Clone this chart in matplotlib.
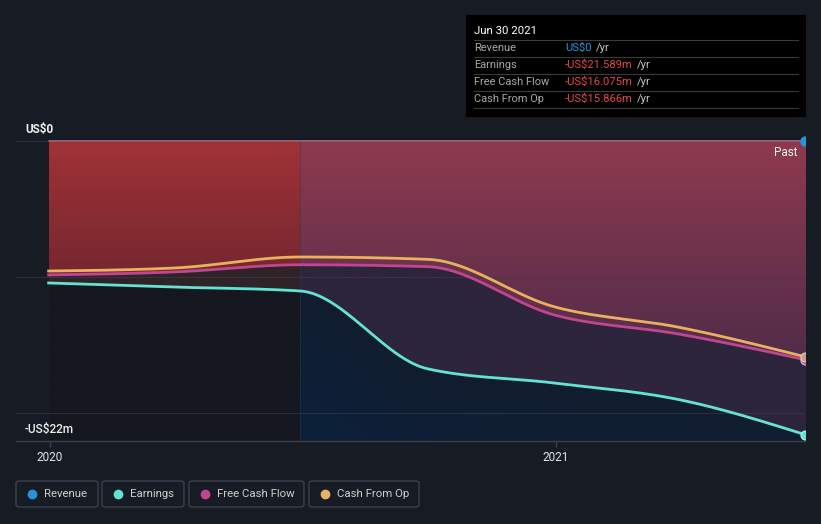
import numpy as np
import matplotlib
matplotlib.use('Agg')
import matplotlib.pyplot as plt
import matplotlib.dates as mdates
from matplotlib.patches import Rectangle, FancyBboxPatch
from matplotlib.lines import Line2D
from datetime import datetime

plt.rcParams['font.family'] = ['Roboto', 'DejaVu Sans']

# quarterly values, US$m
dates = ['2019-12-31', '2020-03-31', '2020-06-30', '2020-09-30',
         '2020-12-31', '2021-03-31', '2021-06-30']
revenue = [0, 0, 0, 0, 0, 0, 0]
earnings = [-10.44, -10.74, -11.03, -16.75, -17.8, -19.02, -21.589]
freeCashFlow = [-9.85, -9.63, -9.10, -9.24, -12.8, -14.2, -16.075]
cashFromOp = [-9.56, -9.34, -8.53, -8.70, -12.2, -13.7, -15.866]

seriesNames = ['Revenue', 'Earnings', 'Free Cash Flow', 'Cash From Op']
seriesColours = ['#2394df', '#62e3d4', '#c0468f', '#e8b160']

tooltipDate = 'Jun 30 2021'
tooltipValues = ['US$0', '-US$21.589m', '-US$16.075m', '-US$15.866m']
pastStart = '2020-06-30'

BG = '#161b24'
W, H = 821, 524


def px(x, y):
    return x / W, 1 - y / H


def MonotoneCurve(x, y, xs):
    # monotone cubic like d3 curveMonotoneX
    x = np.asarray(x, float)
    y = np.asarray(y, float)
    h = np.diff(x)
    s = np.diff(y) / h
    n = len(x)
    m = np.zeros(n)
    for k in range(1, n - 1):
        h0, h1 = h[k - 1], h[k]
        s0, s1 = s[k - 1], s[k]
        p = (s0 * h1 + s1 * h0) / (h0 + h1)
        m[k] = (np.sign(s0) + np.sign(s1)) * min(abs(s0), abs(s1), 0.5 * abs(p))
    m[0] = (3 * s[0] - m[1]) / 2
    m[-1] = (3 * s[-1] - m[-2]) / 2
    idx = np.clip(np.searchsorted(x, xs) - 1, 0, n - 2)
    t = (xs - x[idx]) / h[idx]
    h00 = 2 * t**3 - 3 * t**2 + 1
    h10 = t**3 - 2 * t**2 + t
    h01 = -2 * t**3 + 3 * t**2
    h11 = t**3 - t**2
    return h00 * y[idx] + h10 * h[idx] * m[idx] + h01 * y[idx + 1] + h11 * h[idx] * m[idx + 1]


xNum = mdates.date2num([datetime.strptime(d, '%Y-%m-%d') for d in dates])
splitX = mdates.date2num(datetime.strptime(pastStart, '%Y-%m-%d'))

fig = plt.figure(figsize=(W / 100, H / 100), dpi=100, facecolor=BG)
ax = fig.add_axes([16 / W, 1 - 441 / H, (805 - 16) / W, (441 - 130) / H])
ax.set_facecolor(BG)

pxPerDay = (805 - 50) / (xNum[-1] - mdates.date2num(datetime(2020, 1, 1)))
xLeft = xNum[-1] - (805 - 16) / pxPerDay
yBottom = -22.06
yTop = (441 - 130) / 13.6 + yBottom
ax.set_xlim(xLeft, xNum[-1])
ax.set_ylim(yBottom, yTop)

# smooth curves
xs = np.linspace(xNum[0], xNum[-1], 800)
smoothEarnings = MonotoneCurve(xNum, earnings, xs)
smoothFcf = MonotoneCurve(xNum, freeCashFlow, xs)
smoothCfo = MonotoneCurve(xNum, cashFromOp, xs)
smoothRevenue = MonotoneCurve(xNum, revenue, xs)

# background fill image
ys = np.linspace(0, yBottom, 320)
YY = ys[:, None] * np.ones((1, len(xs)))
right = (xs >= splitX)[None, :] * np.ones((len(ys), 1), bool)
t = np.clip(-YY / 16, 0, 1)[..., None]


def c(rgb):
    return np.array(rgb, float)[None, None, :] / 255


topL, botL = c((160, 50, 55)), c((92, 32, 42))
topR, botR = c((142, 58, 78)), c((82, 44, 74))
img = np.where(right[..., None], topR + (botR - topR) * t, topL + (botL - topL) * t)
belowLines = YY < np.minimum(smoothFcf, smoothCfo)[None, :]
img = np.where((belowLines & ~right)[..., None], c((48, 35, 40)), img)
img = np.where((belowLines & right)[..., None], c((44, 37, 60)), img)
belowEarn = YY < smoothEarnings[None, :]
tb = np.clip((YY - smoothEarnings[None, :]) / -8, 0, 1)[..., None]
img = np.where((belowEarn & ~right)[..., None], c((21, 24, 31)) * np.ones_like(tb), img)
img = np.where((belowEarn & right)[..., None], c((17, 29, 46)) + (c((13, 32, 56)) - c((17, 29, 46))) * tb, img)
ax.imshow(img, extent=[xs[0], xs[-1], yBottom, 0], aspect='auto', origin='upper',
          interpolation='bilinear', zorder=1)

# grid
for gy in [0, -10, -20]:
    ax.axhline(gy, color='#3a3f4a', lw=0.8, alpha=0.6, zorder=2)
ax.plot([splitX, splitX], [yBottom, 0], color='#2c3f66', lw=0.8, alpha=0.45, zorder=2)

# lines
ax.plot(xs, smoothRevenue, color='#c08aa0', lw=1.2, alpha=0.5, zorder=3)
ax.plot(xs, smoothCfo, color=seriesColours[3], lw=2, zorder=4)
ax.plot(xs, smoothFcf, color=seriesColours[2], lw=2, zorder=4)
ax.plot(xs, smoothEarnings, color=seriesColours[1], lw=2, zorder=4)

# end dots
ax.plot(xNum[-1], revenue[-1], 'o', ms=6.5, color=seriesColours[0], zorder=6)
ax.plot(xNum[-1], earnings[-1], 'o', ms=6.5, color=seriesColours[1], mec='#b8f5ee', mew=0.8, zorder=6)
ax.plot(xNum[-1], freeCashFlow[-1], 'o', ms=6.5, color=seriesColours[2], mec='#d8c8e0', mew=0.8, zorder=6)
ax.plot(xNum[-1], cashFromOp[-1], 'o', ms=6.5, color='#c8a080', mec='#e0d0c0', mew=0.8, zorder=6)

# axes styling
for sp in ['top', 'right', 'left']:
    ax.spines[sp].set_visible(False)
ax.spines['bottom'].set_color('#3a404b')
ax.spines['bottom'].set_linewidth(1)
ax.set_yticks([])
ax.set_xticks(mdates.date2num([datetime(2020, 1, 1), datetime(2021, 1, 1)]))
ax.set_xticklabels(['2020', '2021'])
ax.tick_params(axis='x', colors='#3a404b', labelcolor='#e6e6e6', labelsize=8.5,
               length=4, width=1, pad=3)

fig.text(*px(25, 129), 'US$0', color='#f0f0f0', fontsize=8.5, fontweight='bold',
         ha='left', va='center')
fig.text(*px(25, 429), '-US$22m', color='#f0f0f0', fontsize=8.5, fontweight='medium',
         ha='left', va='center')
fig.text(*px(797, 153), 'Past', color='#f0f0f0', fontsize=8.5, ha='right', va='center')

# tooltip
x0, y0 = px(466, 117)
x1, y1 = px(806, 15)
fig.patches.append(Rectangle((x0, y0), x1 - x0, y1 - y0, transform=fig.transFigure,
                             facecolor='#000000', edgecolor='none', zorder=10))
fig.text(*px(474, 31), tooltipDate, color='#ffffff', fontsize=8.2, ha='left', va='center', zorder=11)
for sy in [40, 57, 74, 91, 108]:
    fig.add_artist(Line2D([474 / W, 798 / W], [1 - sy / H] * 2, color='#3a3a3a', lw=0.8, zorder=11))
renderer = fig.canvas.get_renderer()
for i, (name, val) in enumerate(zip(seriesNames, tooltipValues)):
    ry = 48 + 17 * i
    fig.text(*px(474, ry), name, color='#a8a8a8', fontsize=7.9, ha='left', va='center', zorder=11)
    vc = '#2394df' if i == 0 else '#e8454a'
    vt = fig.text(*px(565, ry), val, color=vc, fontsize=8.1, ha='left', va='center', zorder=11)
    bb = vt.get_window_extent(renderer)
    fig.text(bb.x1 / W + 4 / W, 1 - ry / H, '/yr', color='#c8c8c8', fontsize=8.1,
             ha='left', va='center', zorder=11)

# legend
boxes = [(16, 98), (102, 184), (189, 304), (309, 419)]
for (bl, br), name, col in zip(boxes, seriesNames, seriesColours):
    fig.patches.append(FancyBboxPatch(px(bl, 507), (br - bl) / W, 26 / H,
                                      boxstyle='round,pad=0,rounding_size=0.004',
                                      transform=fig.transFigure, facecolor='none',
                                      edgecolor='#3b404a', lw=1))
    fig.add_artist(Line2D([(bl + 16) / W], [1 - 494 / H], marker='o', ms=6,
                          color=col, lw=0))
    fig.text(*px(bl + 28, 494), name, color='#d0d0d0', fontsize=8.2, ha='left', va='center')

fig.savefig('out.png', dpi=100, facecolor=BG)
